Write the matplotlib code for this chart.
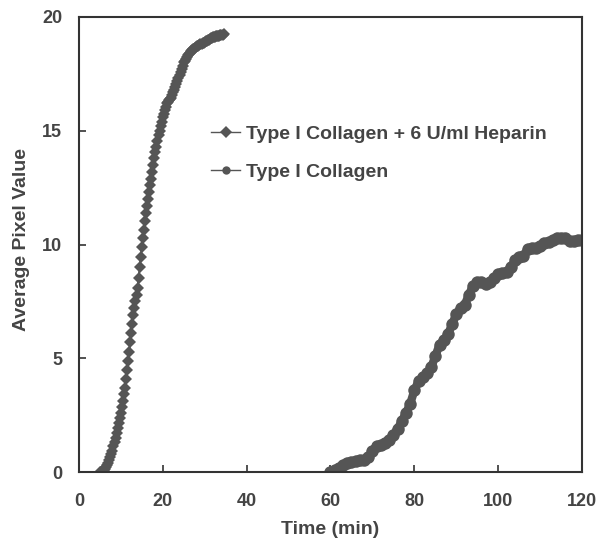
import numpy as np
import matplotlib.pyplot as plt

plt.rcParams['font.family'] = ['Liberation Sans', 'DejaVu Sans']
plt.rcParams['font.weight'] = 'bold'

# heparin run, sampled every 15 s from 5 to 34.5 min
heparin_time = np.arange(5.0, 34.51, 0.25)
heparin_val = [
    0.00, 0.02, 0.04, 0.07, 0.10, 0.16, 0.23, 0.31,
    0.40, 0.52, 0.65, 0.80, 0.95, 1.13, 1.32, 1.51,
    1.70, 1.92, 2.14, 2.37, 2.60, 2.87, 3.14, 3.42,
    3.70, 4.08, 4.48, 4.88, 5.30, 5.70, 6.10, 6.50,
    6.90, 7.20, 7.50, 7.80, 8.10, 8.55, 9.00, 9.45,
    9.90, 10.28, 10.65, 11.02, 11.40, 11.70, 12.00, 12.30,
    12.60, 12.90, 13.20, 13.50, 13.80, 14.05, 14.30, 14.55,
    14.80, 15.00, 15.20, 15.40, 15.60, 15.75, 15.90, 16.05,
    16.20, 16.26, 16.33, 16.39, 16.45, 16.56, 16.68, 16.79,
    16.90, 17.04, 17.18, 17.31, 17.45, 17.59, 17.73, 17.86,
    18.00, 18.08, 18.16, 18.24, 18.32, 18.37, 18.43, 18.48,
    18.53, 18.57, 18.61, 18.64, 18.68, 18.71, 18.74, 18.77,
    18.80, 18.82, 18.85, 18.87, 18.90, 18.92, 18.95, 18.97,
    19.00, 19.02, 19.05, 19.07, 19.10, 19.11, 19.13, 19.14,
    19.15, 19.16, 19.18, 19.19, 19.20, 19.22, 19.25,
]

# collagen only, one reading per minute from 60 to 120 min
collagen_time = np.arange(60, 121, 1)
collagen_val = [
    0.00, 0.10, 0.20, 0.30, 0.40, 0.45, 0.50, 0.55, 0.55, 0.65,
    0.95, 1.15, 1.20, 1.30, 1.40, 1.65, 1.90, 2.25, 2.60, 3.00,
    3.60, 4.00, 4.20, 4.35, 4.60, 5.10, 5.60, 5.80, 6.05, 6.50,
    6.95, 7.20, 7.35, 7.80, 8.20, 8.35, 8.35, 8.25, 8.35, 8.55,
    8.70, 8.75, 8.80, 9.00, 9.30, 9.45, 9.50, 9.80, 9.85, 9.85,
    9.95, 10.05, 10.10, 10.20, 10.30, 10.30, 10.30, 10.15, 10.15, 10.20,
    10.20,
]

gray = '#555555'
txt = '#444444'

fig = plt.figure(figsize=(6.02, 5.44), dpi=100)
ax = fig.add_axes([0.131, 0.132, 0.836, 0.837])

ax.plot(heparin_time, heparin_val, color=gray, lw=1.5, marker='D', markersize=6.5,
        markeredgewidth=0, label='Type I Collagen + 6 U/ml Heparin')
ax.plot(collagen_time, collagen_val, color=gray, lw=6, marker='o', markersize=9,
        markeredgewidth=0, label='Type I Collagen')

ax.set_xlim(0, 120)
ax.set_ylim(0, 20)
ax.set_xticks(range(0, 121, 20))
ax.set_yticks(range(0, 21, 5))
ax.tick_params(direction='in', length=5, width=1.2, colors='#333333',
               labelcolor=txt, labelsize=13)
ax.tick_params(axis='x', pad=15)
ax.tick_params(axis='y', pad=12)
for s in ax.spines.values():
    s.set_color('#333333')
    s.set_linewidth(1.5)

ax.set_xlabel('Time (min)', fontsize=14, color=txt, fontweight='bold', labelpad=8)
ax.set_ylabel('Average Pixel Value', fontsize=14, color=txt, fontweight='bold', labelpad=10)
ax.yaxis.set_label_coords(-0.098, 0.51)

leg = ax.legend(loc='upper left', bbox_to_anchor=(0.228, 0.80), frameon=False,
                fontsize=14, handlelength=1.5, handletextpad=0.3, labelspacing=1.05)
for h in leg.legend_handles:
    h.set_linewidth(1)
    h.set_markersize(6)
for t in leg.get_texts():
    t.set_color(txt)

fig.savefig('out.png', dpi=100)
